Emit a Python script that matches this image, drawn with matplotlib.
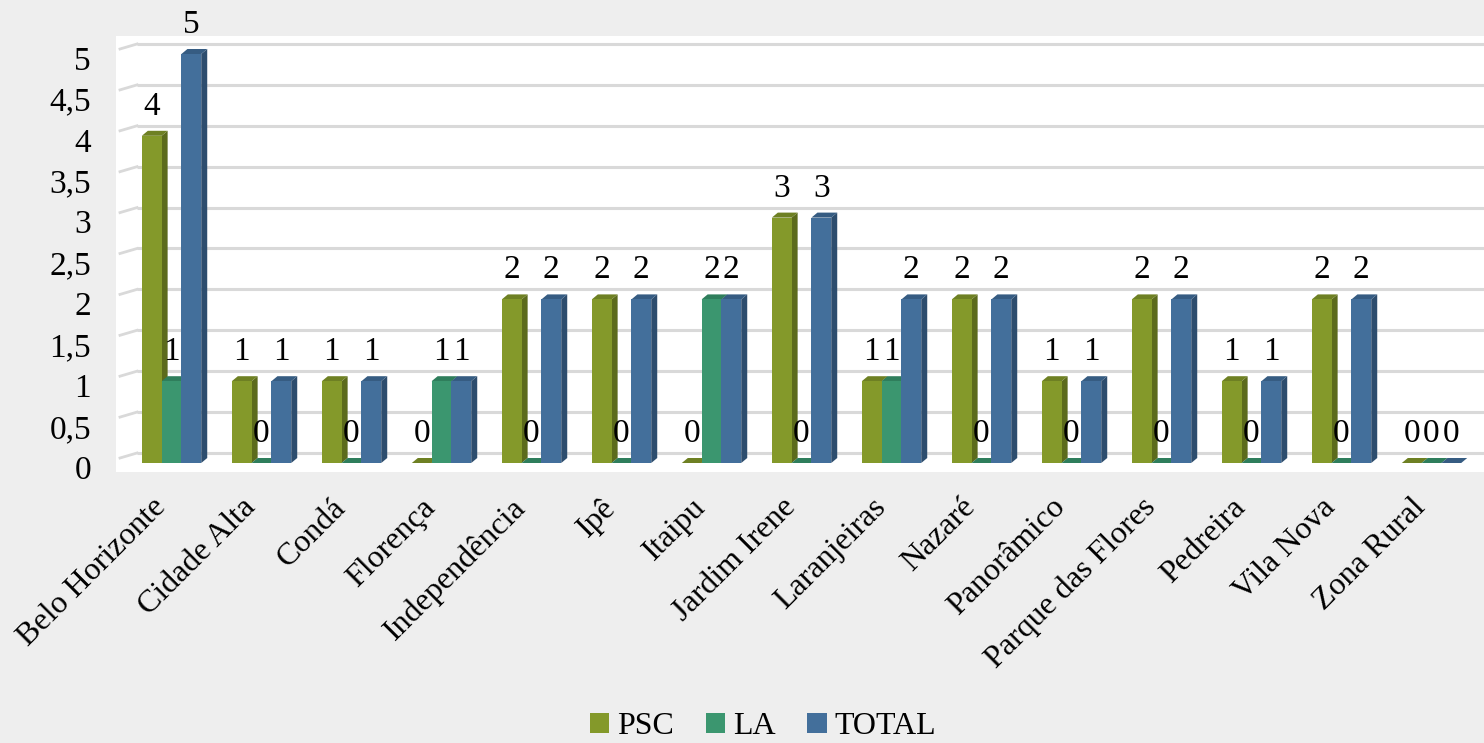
import matplotlib
matplotlib.use("Agg")
import matplotlib.pyplot as plt
from matplotlib.patches import Rectangle, Polygon, Patch
import matplotlib.transforms as mtransforms

# ---------------- data ----------------
categories = ["Belo Horizonte", "Cidade Alta", "Condá", "Florença", "Independência",
              "Ipê", "Itaipu", "Jardim Irene", "Laranjeiras", "Nazaré", "Panorâmico",
              "Parque das Flores", "Pedreira", "Vila Nova", "Zona Rural"]
psc = [4, 1, 1, 0, 2, 2, 0, 3, 1, 2, 1, 2, 1, 2, 0]
la = [1, 0, 0, 1, 0, 0, 2, 0, 1, 0, 0, 0, 0, 0, 0]
total = [5, 1, 1, 1, 2, 2, 2, 3, 2, 2, 1, 2, 1, 2, 0]
series_names = ["PSC", "LA", "TOTAL"]
yticks = [0, 0.5, 1, 1.5, 2, 2.5, 3, 3.5, 4, 4.5, 5]
ytick_labels = ["0", "0,5", "1", "1,5", "2", "2,5", "3", "3,5", "4", "4,5", "5"]

# ---------------- style ----------------
FONT = ["Liberation Serif", "DejaVu Serif"]
plt.rcParams["font.family"] = FONT
front_cols = ["#84992A", "#3B966F", "#436F9B"]
side_cols = ["#5C6B1C", "#2A6E51", "#2D4D6E"]
top_cols = ["#6E8023", "#2F7E5C", "#365C82"]
FS = 24

W_PX, H_PX, DPI = 1484, 743, 100
fig = plt.figure(figsize=(W_PX / DPI, H_PX / DPI), dpi=DPI)
fig.patch.set_facecolor("#EEEEEE")

ax_l, ax_r, ax_t, ax_b = 116, 1484, 36, 472
ax = fig.add_axes([ax_l / W_PX, 1 - ax_b / H_PX, (ax_r - ax_l) / W_PX, (ax_b - ax_t) / H_PX])
ax.set_facecolor("white")
for s in ax.spines.values():
    s.set_visible(False)

xlim = (-0.617, 14.583)
ylim = (-0.11, 5.22)
ax.set_xlim(*xlim)
ax.set_ylim(*ylim)

ppx = (ax_r - ax_l) / (xlim[1] - xlim[0])
ppy = (ax_b - ax_t) / (ylim[1] - ylim[0])
dx = 6 / ppx
dy = 5 / ppy

# gridlines on the "back wall" (shifted up) with small perspective stubs
back = ax.get_yaxis_transform() + mtransforms.ScaledTranslation(0, 10 / DPI, fig.dpi_scale_trans)
stub_front = ax.get_yaxis_transform() + mtransforms.ScaledTranslation(0, 5 / DPI, fig.dpi_scale_trans)
x_back = (137 - ax_l) / (ax_r - ax_l)
x_front = (120 - ax_l) / (ax_r - ax_l)
for v in yticks:
    ax.plot([x_back, 1], [v, v], transform=back, color="#D9D9D9", lw=2.2, zorder=1,
            solid_capstyle="butt")
    p0 = stub_front.transform((x_front, v))
    p1 = back.transform((x_back, v))
    ax.plot([p0[0], p1[0]], [p0[1], p1[1]], transform=None, color="#D9D9D9", lw=2.0, zorder=1)

# 3D-like bars
bw = 0.22
offsets = [-bw, 0, bw]
for gi in range(len(categories)):
    for si, vals in enumerate([psc, la, total]):
        h = vals[gi]
        xc = gi + offsets[si]
        xl, xr = xc - bw / 2, xc + bw / 2
        z = 3 + si
        ax.add_patch(Polygon([(xr, 0), (xr, h), (xr + dx, h + dy), (xr + dx, dy)],
                             closed=True, facecolor=side_cols[si], edgecolor="none", zorder=z))
        ax.add_patch(Polygon([(xl, h), (xr, h), (xr + dx, h + dy), (xl + dx, h + dy)],
                             closed=True, facecolor=top_cols[si], edgecolor="none", zorder=z))
        if h > 0:
            ax.add_patch(Rectangle((xl, 0), bw, h, facecolor=front_cols[si],
                                   edgecolor="none", zorder=z + 0.1))
        ax.annotate(str(h), (xc, h), xytext=(0, 21), textcoords="offset points",
                    ha="center", va="center", fontsize=FS, color="black", zorder=10)

# axes ticks
ax.set_yticks(yticks)
ax.set_yticklabels(ytick_labels, fontsize=FS)
ax.tick_params(axis="y", length=0, pad=18)
down = mtransforms.ScaledTranslation(0, -4 / DPI, fig.dpi_scale_trans)
for lab in ax.get_yticklabels():
    lab.set_transform(lab.get_transform() + down)
ax.set_xticks(range(len(categories)))
ax.set_xticklabels(categories, rotation=45, ha="right", va="top",
                   rotation_mode="default", fontsize=23)
ax.tick_params(axis="x", length=0, pad=15)

# legend
handles = [Patch(facecolor=c, edgecolor="none") for c in front_cols]
fig.legend(handles, series_names, loc="center", bbox_to_anchor=(763 / W_PX, 1 - 727 / H_PX),
           ncol=3, frameon=False, fontsize=23, handlelength=0.6, handleheight=0.6,
           handletextpad=0.25, columnspacing=1.0, borderpad=0.1)

fig.savefig("out.png", dpi=DPI, facecolor=fig.get_facecolor())
